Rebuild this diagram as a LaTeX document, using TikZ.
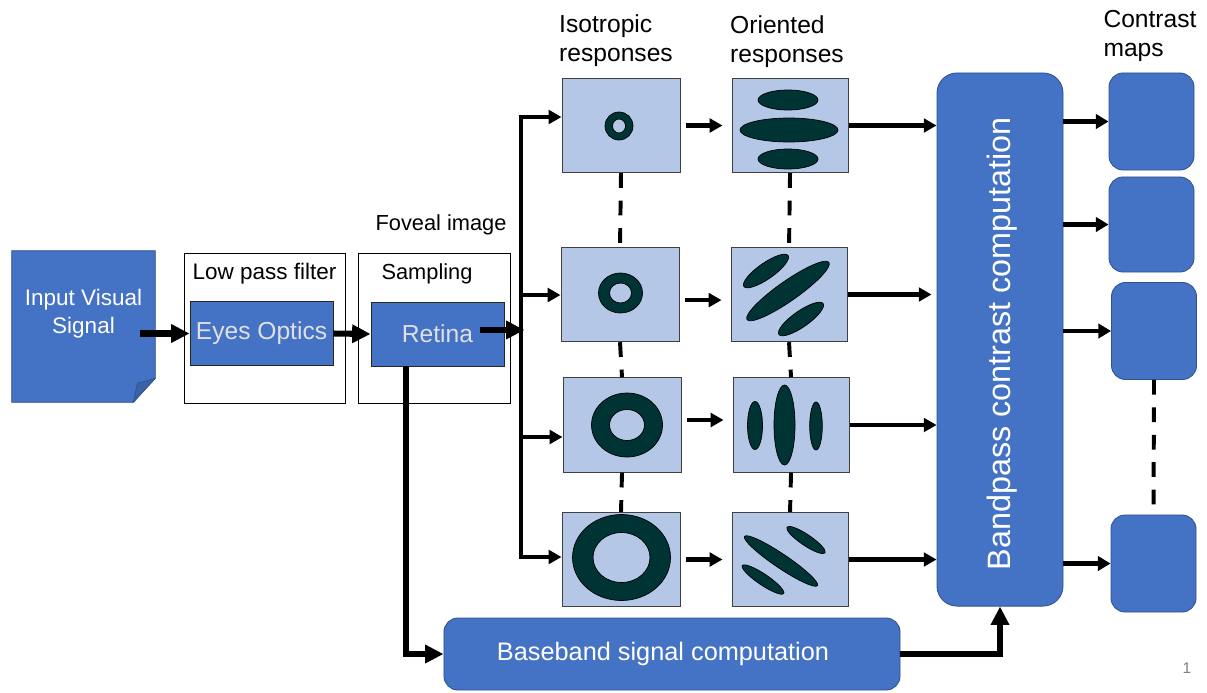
\documentclass[tikz,border=0pt]{standalone}
\usepackage{fontspec}
\setmainfont{Liberation Sans}
\usetikzlibrary{arrows.meta,positioning,calc}
\definecolor{myblue}{HTML}{4472C4}
\definecolor{myedge}{HTML}{2F528F}
\definecolor{mylight}{HTML}{B4C7E7}
\definecolor{myteal}{RGB}{0,51,51}
\definecolor{myfold}{HTML}{3A62A8}
\definecolor{mypale}{HTML}{E0E0E0}
\tikzset{
  panel/.style={rectangle, draw=black, line width=0.6pt, fill=white, minimum width=4.025cm, minimum height=3.75cm},
  stage/.style={rectangle, draw=black!85, line width=0.6pt, fill=myblue, text=mypale, font=\fontsize{17.5}{20}\selectfont, minimum height=1.6cm},
  resp/.style={rectangle, draw=black!75, line width=0.7pt, fill=mylight, minimum width=2.95cm, minimum height=2.36cm},
  block/.style={rectangle, rounded corners=0.35cm, draw=myedge, line width=0.6pt, fill=myblue, text=white},
  cmap/.style={rectangle, rounded corners=0.35cm, draw=myedge, line width=0.6pt, fill=myblue, minimum width=2.125cm, minimum height=2.425cm},
  lbl/.style={font=\fontsize{16}{20}\selectfont, inner sep=0pt},
  heading/.style={font=\fontsize{17.5}{20.5}\selectfont, align=left, inner sep=0pt},
  blob/.style={fill=myteal, draw=black, line width=0.5pt},
  fatarrow/.style={draw, line width=4.3pt, -{Triangle[length=0.46cm,width=0.44cm]}},
  thinarrow/.style={draw, line width=3pt, -{Triangle[length=0.32cm,width=0.34cm]}},
  forkline/.style={draw, line width=3pt, {Triangle[length=0.32cm,width=0.34cm]}-{Triangle[length=0.32cm,width=0.34cm]}},
  midarrow/.style={draw, line width=3.5pt, -{Triangle[length=0.32cm,width=0.36cm]}},
  dashline/.style={draw, line width=2.8pt, dash pattern=on 10.5pt off 9pt}
}

\begin{document}
\begin{tikzpicture}[x=0.025cm, y=-0.025cm]
\useasboundingbox (0,0) rectangle (1207,692);

% input document with folded corner
\node[rectangle, inner sep=0pt, minimum width=3.575cm, minimum height=3.775cm] (input) at (83.5,326.5) {};
\filldraw[fill=myblue, draw=myedge, line width=0.6pt] (input.north west) -- (input.north east)
  -- ([yshift=0.6cm]input.south east) -- ([xshift=-0.55cm]input.south east) -- (input.south west) -- cycle;
\filldraw[fill=myfold, draw=myedge, line width=0.4pt] ([xshift=-0.55cm]input.south east)
  -- ([yshift=0.6cm]input.south east) -- ([xshift=-0.45cm,yshift=0.475cm]input.south east) -- cycle;
\node[lbl, text=white, align=center] (inputtext) at ([yshift=0.31cm]input.center) {Input Visual\\Signal};

% low pass filter and sampling stages
\node[panel] (lpf) at (264.5,328) {};
\node[lbl] (lpflabel) at ([yshift=-0.525cm]lpf.north) {Low pass filter};
\node[stage, minimum width=3.575cm] (eyes) at (261.5,333.5) {Eyes Optics};

\node[panel, minimum width=3.8cm] (samp) at (434,328) {};
\node[lbl, font=\fontsize{15.5}{18}\selectfont] (samplabel) at ([xshift=-0.175cm,yshift=-0.525cm]samp.north) {Sampling};
\node[lbl, font=\fontsize{15.5}{18}\selectfont] (foveal) at ([xshift=0.175cm,yshift=0.7cm]samp.north) {Foveal image};
\node[stage, minimum width=3.325cm] (retina) at (437.5,334) {Retina};

% isotropic and oriented response maps
\node[resp] (iso1) at (621,125.5) {};
\node[resp] (iso2) at (620,294.5) {};
\node[resp] (iso3) at (622,425) {};
\node[resp] (iso4) at (621,559.5) {};
\node[resp, minimum width=2.9cm, right=1.275cm of iso1] (ori1) {};
\node[resp, minimum width=2.9cm, right=1.275cm of iso2] (ori2) {};
\node[resp, minimum width=2.9cm, right=1.275cm of iso3] (ori3) {};
\node[resp, minimum width=2.9cm, right=1.275cm of iso4] (ori4) {};

\node[heading] (isohead) at (616,41) {Isotropic\\responses};
\node[heading] (orihead) at (787,42) {Oriented\\responses};

% rings
\path[blob, even odd rule] (619,126) ellipse [x radius=14, y radius=14] (619,126) ellipse [x radius=6.5, y radius=7];
\path[blob, even odd rule] (620.5,293) ellipse [x radius=22, y radius=20] (620.5,293) ellipse [x radius=11, y radius=10];
\path[blob, even odd rule] (627,425) ellipse [x radius=35.5, y radius=32] (627,425) ellipse [x radius=17.5, y radius=15.5];
\path[blob, even odd rule] (621.5,557.5) ellipse [x radius=49, y radius=43] (621.5,557.5) ellipse [x radius=28.5, y radius=25];

% oriented blobs
\path[blob] (788,100) ellipse [x radius=30, y radius=10];
\path[blob] (789,130) ellipse [x radius=49, y radius=12];
\path[blob] (788,159) ellipse [x radius=30, y radius=10];

\path[blob, rotate around={35:(766,271)}] (766,271) ellipse [x radius=27, y radius=8];
\path[blob, rotate around={35:(788,291)}] (788,291) ellipse [x radius=50, y radius=10];
\path[blob, rotate around={35:(801,319)}] (801,319) ellipse [x radius=27, y radius=8];

\path[blob] (755,425.5) ellipse [x radius=7.5, y radius=24];
\path[blob] (784.5,425) ellipse [x radius=10.5, y radius=40];
\path[blob] (816,426) ellipse [x radius=6.3, y radius=24];

\path[blob, rotate around={-34:(806,540)}] (806,540) ellipse [x radius=23, y radius=5.5];
\path[blob, rotate around={-34:(781,561)}] (781,561) ellipse [x radius=44, y radius=7];
\path[blob, rotate around={-34:(763,579.5)}] (763,579.5) ellipse [x radius=25, y radius=5.5];

% bandpass and baseband computation
\node[block, rounded corners=0.5cm, minimum width=3.15cm, minimum height=13.325cm] (band) at (1000,339.5) {};
\node[text=white, rotate=90, font=\fontsize{23}{26}\selectfont] (bandtext) at ([xshift=0.05cm,yshift=-0.1cm]band.center) {Bandpass contrast computation};
\node[block, minimum width=11.4cm, minimum height=1.8cm, font=\fontsize{18}{21}\selectfont] (base) at (672,654) {Baseband signal computation\hspace*{0.45cm}};

% contrast maps
\node[cmap] (map1) at (1151.5,121.5) {};
\node[cmap, minimum height=2.375cm] (map2) at (1151.5,224.5) {};
\node[cmap] (map3) at (1154,331) {};
\node[cmap] (map4) at (1153.5,563.5) {};
\node[heading] (maphead) at (1150,36) {Contrast\\maps};

\node[text=gray, font=\fontsize{11}{13}\selectfont] (pagenum) at (1187,668) {1};

% connectors
\coordinate (bus1) at (521,117);
\coordinate (bus2) at (521,295);
\coordinate (bus3) at (521,437);
\coordinate (bus4) at (521,557);

\draw[fatarrow] ($(input.east |- eyes.west)+(-15,0)$) -- (eyes.west);
\draw[fatarrow] (eyes.east) -- (retina.west);
\draw[fatarrow] ([xshift=-0.6cm,yshift=0.1cm]retina.east) -- ([xshift=0.5cm,yshift=0.1cm]retina.east);
\draw[forkline] (bus1 -| iso1.west) -- (bus1) -- (bus4) -- (bus4 -| iso4.west);
\draw[thinarrow] (bus2) -- (bus2 -| iso2.west);
\draw[thinarrow] (bus3) -- (bus3 -| iso3.west);
\draw[fatarrow] ([xshift=-0.79cm]retina.south) |- (base.west);
\draw[fatarrow] (base.east) -| (band.south);

\draw[thinarrow, shorten <=0.125cm, shorten >=0.225cm] (iso1.east) -- (ori1.west);
\draw[thinarrow, shorten <=0.125cm, shorten >=0.225cm] ([yshift=-0.14cm]iso2.east) -- ([yshift=-0.14cm]ori2.west);
\draw[thinarrow, shorten <=0.125cm, shorten >=0.225cm] ([yshift=0.125cm]iso3.east) -- ([yshift=0.125cm]ori3.west);
\draw[thinarrow, shorten <=0.125cm, shorten >=0.225cm] (iso4.east) -- (ori4.west);

\draw[thinarrow] (ori1.east) -- (ori1.east -| band.west);
\draw[thinarrow, shorten >=0.125cm] (ori2.east) -- (ori2.east -| band.west);
\draw[thinarrow] (ori3.east) -- (ori3.east -| band.west);
\draw[thinarrow] (ori4.east) -- (ori4.east -| band.west);

\draw[midarrow] (band.east |- map1.west) -- (map1.west);
\draw[midarrow] (band.east |- map2.west) -- (map2.west);
\draw[midarrow] (band.east |- map3.west) -- (map3.west);
\draw[midarrow] (band.east |- map4.west) -- (map4.west);

\draw[dashline] (iso1.south) -- (iso2.north);
\draw[dashline] (iso2.south) -- (iso3.north);
\draw[dashline] (iso3.south) -- (iso4.north);
\draw[dashline] (ori1.south) -- (ori2.north);
\draw[dashline] (ori2.south) -- (ori3.north);
\draw[dashline] (ori3.south) -- (ori4.north);
\draw[dashline] (map3.south) -- (map4.north);

\end{tikzpicture}
\end{document}
